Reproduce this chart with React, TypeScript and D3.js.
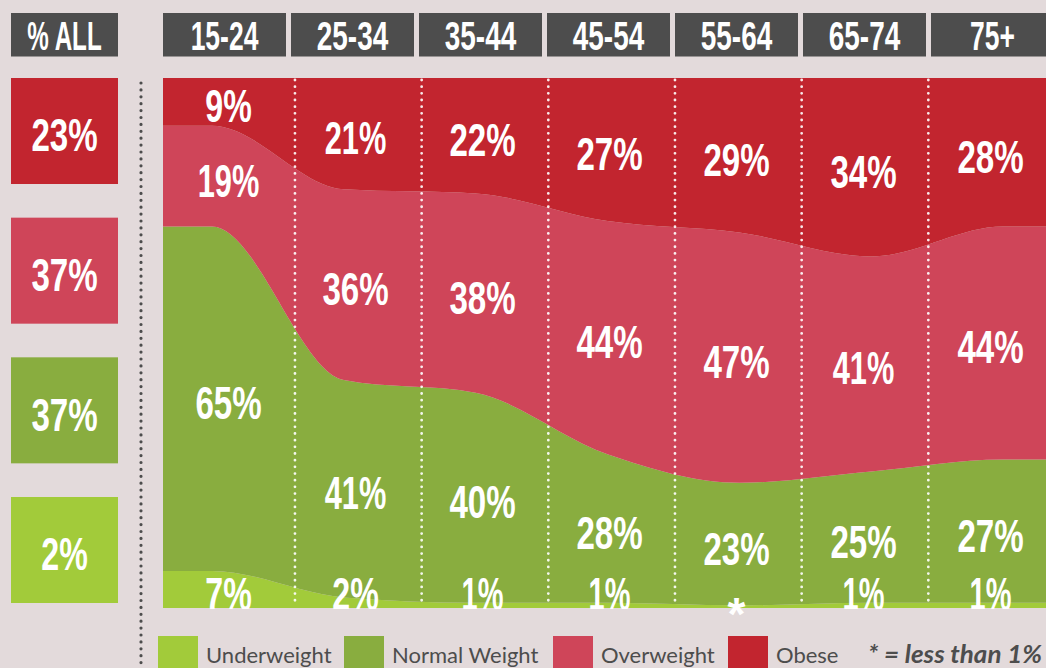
import React from "react";
import * as d3 from "d3";

const ages = ["15-24", "25-34", "35-44", "45-54", "55-64", "65-74", "75+"];
const seriesNames = ["Underweight", "Normal Weight", "Overweight", "Obese"];
const underweight = [7, 2, 1, 1, 0.5, 1, 1];
const normalWeight = [65, 41, 40, 28, 23, 25, 27];
const overweight = [19, 36, 38, 44, 47, 41, 44];
const obese = [9, 21, 22, 27, 29, 34, 28];
const allShares = [2, 37, 37, 23];
const allLabel = "% ALL";
const footnote = "* = less than 1%";

const W = 1046;
const H = 668;
const BG = "#e3dadb";
const DARK = "#4d4d4d";
const COLORS = ["#a2cb3a", "#89ad3f", "#cf4559", "#c2252f"];
const NUM_FONT = '"Liberation Sans Narrow", "Liberation Sans", Arial, sans-serif';
const LEG_FONT = 'Lato, "Open Sans", sans-serif';

const CW: Record<string, number> = {
  "1": 0.33, "%": 0.58, "-": 0.22, "+": 0.36, " ": 0.18, A: 0.5, L: 0.38, "*": 0.37,
};
function tw(s: string, size: number, k = 1) {
  let w = 0;
  for (const c of s) w += (CW[c] ?? 0.43) * size;
  return w * k;
}
function fmt(v: number) {
  return v < 1 ? "*" : `${Math.round(v)}%`;
}

export default function App() {
  const plotTop = 78;
  const plotBottom = 608;
  const plotLeft = 163;
  const plotRight = 1056;

  const rows = ages.map((age, i) => ({
    age,
    [seriesNames[0]]: underweight[i],
    [seriesNames[1]]: normalWeight[i],
    [seriesNames[2]]: overweight[i],
    [seriesNames[3]]: obese[i],
  }));
  const stacked = d3
    .stack<any>()
    .keys(seriesNames)
    .offset(d3.stackOffsetExpand)(rows);

  const xPoint = d3.scalePoint<string>().domain(ages).range([212, 1003]);
  const xCol = d3.scaleBand<string>().domain(ages).range([168.3, 1055]);
  const xHead = d3.scaleBand<string>().domain(ages).range([163, 1054]).paddingInner(5 / 128);
  const xLab = d3.scaleBand<string>().domain(ages).range([165, 1054]);
  const y = d3.scaleLinear().domain([0, 1]).range([plotBottom, plotTop]);
  const yAll = d3
    .scaleBand<string>()
    .domain([...seriesNames].reverse())
    .range([78, 603])
    .paddingInner(0.241);

  const area = d3
    .area<{ x: number; y0: number; y1: number }>()
    .x((d) => d.x)
    .y0((d) => y(d.y0))
    .y1((d) => y(d.y1))
    .curve(d3.curveMonotoneX);

  const numSize = 46;
  const cap = numSize * 0.716;
  const headSize = 40;

  const numText = (key: string, x: number, yy: number, label: string) => (
    <text
      key={key}
      x={x}
      y={yy}
      fill="#fff"
      fontFamily={NUM_FONT}
      fontWeight="bold"
      fontSize={numSize}
      textAnchor="middle"
      textLength={tw(label, numSize)}
      lengthAdjust="spacingAndGlyphs"
    >
      {label}
    </text>
  );

  return (
    <svg width={W} height={H} style={{ position: "absolute", left: 0, top: 0, display: "block" }}>
      <style>{`body{margin:0;background:${BG}}`}</style>
      <rect x={0} y={0} width={W} height={H} fill={BG} />
      <defs>
        <clipPath id="plotClip">
          <rect x={plotLeft} y={plotTop} width={plotRight - plotLeft} height={plotBottom - plotTop + 1} />
        </clipPath>
      </defs>

      {/* header */}
      <rect x={11} y={13} width={107} height={43.5} fill={DARK} />
      <text
        x={64.5}
        y={49.5}
        fill="#fff"
        fontFamily={NUM_FONT}
        fontWeight="bold"
        fontSize={headSize}
        textAnchor="middle"
        textLength={tw(allLabel, headSize, 0.92)}
        lengthAdjust="spacingAndGlyphs"
      >
        {allLabel}
      </text>
      {ages.map((a) => (
        <g key={a}>
          <rect x={xHead(a)} y={13} width={xHead.bandwidth()} height={43.5} fill={DARK} />
          <text
            x={(xHead(a) as number) + xHead.bandwidth() / 2}
            y={49.5}
            fill="#fff"
            fontFamily={NUM_FONT}
            fontWeight="bold"
            fontSize={headSize}
            textAnchor="middle"
            textLength={tw(a, headSize, 0.92)}
            lengthAdjust="spacingAndGlyphs"
          >
            {a}
          </text>
        </g>
      ))}

      {/* % ALL boxes */}
      {seriesNames.map((s, i) => {
        const t = yAll(s) as number;
        const label = fmt(allShares[i]);
        return (
          <g key={s}>
            <rect x={11} y={t} width={107} height={yAll.bandwidth()} fill={COLORS[i]} />
            {numText(`all-${s}`, 64.5, t + yAll.bandwidth() / 2 + 4 + cap / 2, label)}
          </g>
        );
      })}

      {/* left dotted divider */}
      <line
        x1={141}
        x2={141}
        y1={83}
        y2={H + 4}
        stroke={DARK}
        strokeWidth={3.2}
        strokeLinecap="round"
        strokeDasharray="0 6.9"
      />

      {/* stacked areas */}
      <g clipPath="url(#plotClip)">
        {stacked.map((layer, si) => {
          const pts = [
            { x: plotLeft, y0: layer[0][0], y1: layer[0][1] },
            ...layer.map((d, i) => ({ x: xPoint(ages[i]) as number, y0: d[0], y1: d[1] })),
            { x: plotRight, y0: layer[layer.length - 1][0], y1: layer[layer.length - 1][1] },
          ];
          return <path key={seriesNames[si]} d={area(pts) || ""} fill={COLORS[si]} />;
        })}
      </g>

      {/* column separators */}
      {ages.slice(1).map((a) => (
        <line
          key={a}
          x1={xCol(a)}
          x2={xCol(a)}
          y1={80}
          y2={plotBottom - 2}
          stroke="#ffffff"
          strokeOpacity={0.9}
          strokeWidth={2.8}
          strokeLinecap="round"
          strokeDasharray="0 6.67"
        />
      ))}

      {/* value labels (upper series) */}
      {stacked.slice(1).map((layer, k) =>
        layer.map((d, i) => {
          const si = k + 1;
          const v = [underweight, normalWeight, overweight, obese][si][i];
          const cx = (xLab(ages[i]) as number) + xLab.bandwidth() / 2;
          return numText(`${si}-${i}`, cx, y((d[0] + d[1]) / 2) + 4 + cap / 2, fmt(v));
        })
      )}
      {/* bottom series labels, cut at the plot's lower edge */}
      <g clipPath="url(#plotClip)">
        {underweight.map((v, i) =>
          v >= 1
            ? numText(`u-${i}`, (xLab(ages[i]) as number) + xLab.bandwidth() / 2, plotBottom + 2, fmt(v))
            : null
        )}
      </g>
      {underweight.map((v, i) =>
        v < 1 ? (
          <text
            key={`star-${i}`}
            x={(xLab(ages[i]) as number) + xLab.bandwidth() / 2}
            y={plotBottom + 22}
            fill="#fff"
            fontFamily={NUM_FONT}
            fontWeight="bold"
            fontSize={numSize}
            textAnchor="middle"
          >
            *
          </text>
        ) : null
      )}

      {/* legend */}
      {seriesNames.map((s, i) => {
        const lx = [158, 344, 553, 728][i];
        return (
          <g key={`leg-${s}`}>
            <rect x={lx} y={636} width={40} height={40} fill={COLORS[i]} />
            <text x={lx + 48} y={662.5} fill={DARK} fontFamily={LEG_FONT} fontSize={22}>
              {s}
            </text>
          </g>
        );
      })}
      <text
        x={868}
        y={662.5}
        fill={DARK}
        fontFamily={LEG_FONT}
        fontSize={24}
        fontStyle="italic"
        fontWeight="bold"
        textLength={174}
        lengthAdjust="spacingAndGlyphs"
      >
        {footnote}
      </text>
    </svg>
  );
}
